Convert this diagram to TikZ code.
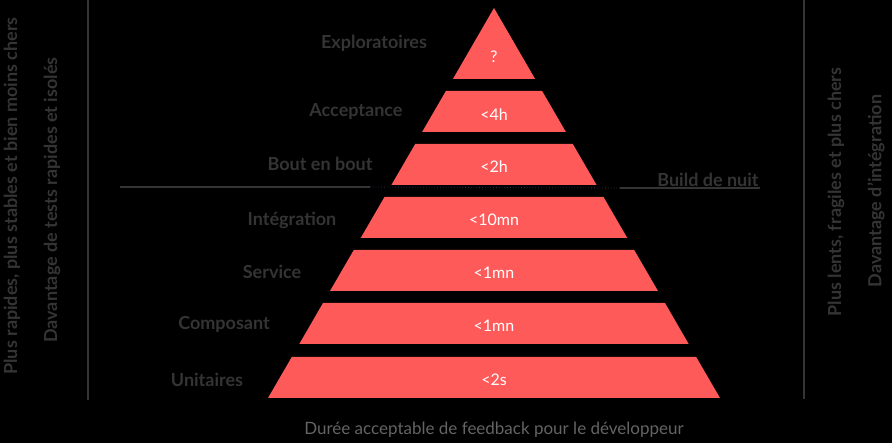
\documentclass[tikz,border=0pt]{standalone}
\usepackage{fontspec}
\setmainfont{Lato}
\definecolor{pyr}{RGB}{255,90,90}
\definecolor{ink}{RGB}{52,52,52}
\definecolor{capc}{RGB}{100,100,100}
\definecolor{dotc}{RGB}{45,55,80}
\begin{document}
\begin{tikzpicture}[x=1pt,y=-1pt,
  band/.style={fill=pyr},
  val/.style={text=white,font=\fontsize{16}{18}\selectfont},
  lab/.style={text=ink,font=\bfseries\fontsize{18}{21}\selectfont},
  side/.style={text=ink,font=\bfseries\fontsize{18}{21}\selectfont,rotate=90},
  rulel/.style={draw=ink,line width=2pt}]
\fill[black] (0,0) rectangle (892,443);
\useasboundingbox (0,0) rectangle (892,443);
% pyramid bands
\fill[band] (494,8) -- (535.1,79) -- (452.9,79) -- cycle;
\fill[band] (445.9,91) -- (542.1,91) -- (565.9,132) -- (422.1,132) -- cycle;
\fill[band] (415.2,144) -- (572.8,144) -- (596.6,185) -- (391.4,185) -- cycle;
\fill[band] (384.5,197) -- (603.5,197) -- (627.3,238) -- (360.7,238) -- cycle;
\fill[band] (353.8,250) -- (634.2,250) -- (658.0,291) -- (330.0,291) -- cycle;
\fill[band] (323.0,303) -- (665.0,303) -- (688.7,344) -- (299.3,344) -- cycle;
\fill[band] (291.8,357) -- (696.2,357) -- (720,398) -- (268,398) -- cycle;
% values
\node[val] (v1) at (494,57) {?};
\node[val] (v2) at (494,115) {<4h};
\node[val] (v3) at (494,167) {<2h};
\node[val] (v4) at (494,220) {<10mn};
\node[val] (v5) at (494,273) {<1mn};
\node[val] (v6) at (494,326) {<1mn};
\node[val] (v7) at (494,380) {<2s};
% level labels
\node[lab] (t1) at (374,43) {Exploratoires};
\node[lab] (t2) at (356,112) {Acceptance};
\node[lab] (t3) at (320,164) {Bout en bout};
\node[lab] (t4) at (292,220) {Intégration};
\node[lab] (t5) at (272,272) {Service};
\node[lab] (t6) at (224,324) {Composant};
\node[lab] (t7) at (207,380) {Unitaires};
% separation line
\coordinate (la) at (120,187);
\coordinate (lb) at (370,187);
\coordinate (ra) at (620,188);
\coordinate (rb) at (760,188);
\draw[rulel] (la) -- (lb);
\draw[dotc,dotted,line width=0.8pt] (lb) -- (ra);
\draw[rulel] (ra) -- (rb);
\node[lab,anchor=south] (sep) at (708,190) {Build de nuit};
% vertical rules
\coordinate (ltop) at (88,0);
\coordinate (lbot) at (88,400);
\draw[rulel] (ltop) -- (lbot);
\coordinate (rtop) at (804,0);
\coordinate (rbot) at (804,399);
\draw[rulel] (rtop) -- (rbot);
% side texts
\node[side] (s1) at (12,196) {Plus rapides, plus stables et bien moins chers};
\node[side] (s2) at (52,200) {Davantage de tests rapides et isolés};
\node[side] (s3) at (836,192) {Plus lents, fragiles et plus chers};
\node[side] (s4) at (876,191) {Davantage d'intégration};
% caption
\node[text=capc,font=\fontsize{17}{20}\selectfont] (cap) at (494,430) {Durée acceptable de feedback pour le développeur};
\end{tikzpicture}
\end{document}
